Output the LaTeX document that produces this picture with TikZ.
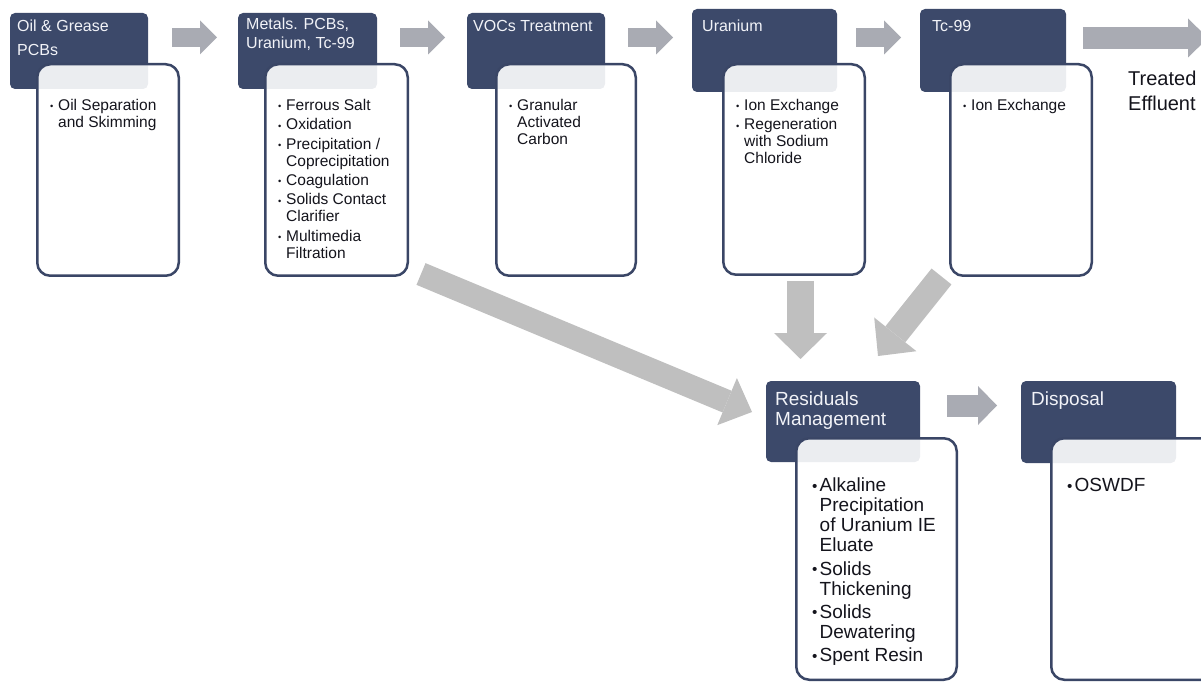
\documentclass[tikz,border=0pt]{standalone}
\usepackage{fontspec}
\setmainfont{Liberation Sans}
\usetikzlibrary{arrows.meta}
\definecolor{navy}{RGB}{60,73,106}
\definecolor{navyb}{RGB}{58,70,102}
\definecolor{agray}{RGB}{169,171,179}
\definecolor{bgray}{RGB}{191,191,191}
\definecolor{hwhite}{RGB}{242,243,248}
\definecolor{btext}{RGB}{20,20,28}
\newcommand{\bul}{\makebox[8pt][l]{\raisebox{0.8pt}{\scalebox{0.6}{•}}}}
\newcommand{\cnt}{\hspace*{8pt}}
\newcommand{\bbul}{\makebox[7.5pt][l]{\raisebox{0.6pt}{\scalebox{0.8}{•}}}}
\newcommand{\bcnt}{\hspace*{7.5pt}}
\newcommand{\fs}{\rule{0pt}{13pt}}
\newcommand{\bfs}{\rule{0pt}{15pt}}
\begin{document}
\begin{tikzpicture}[x=1pt,y=-1pt,
  hdr/.style={fill=navy, rounded corners=5pt, inner sep=0pt, outer sep=0pt, anchor=north west},
  wbox/.style={fill=white, fill opacity=0.9, draw=navyb, line width=2.5pt, rounded corners=13pt, inner sep=0pt, outer sep=0pt, anchor=north west},
  htxt/.style={text=hwhite, font=\fontsize{16}{19}\selectfont, anchor=north west, inner sep=0pt, align=left},
  btxt/.style={text=btext, font=\fontsize{15.5}{17}\selectfont, anchor=north west, inner sep=0pt, align=left},
  bhtxt/.style={text=hwhite, font=\fontsize{19}{20}\selectfont, anchor=north west, inner sep=0pt, align=left},
  bbtxt/.style={text=btext, font=\fontsize{19}{20}\selectfont, anchor=north west, inner sep=0pt, align=left},
  sarr/.style={draw=agray, line width=19pt, -{Triangle[width=34pt,length=17pt,line width=0pt]}},
  marr/.style={draw=agray, line width=22pt, -{Triangle[width=39pt,length=19pt,line width=0pt]}},
  barr/.style={draw=bgray, line width=#1, -{Triangle[width=53pt,length=26pt,line width=0pt]}},
]
\useasboundingbox (0,0) rectangle (1201,684);
\clip (0,0) rectangle (1201,684);

% headers (top row)
\node[hdr, minimum width=138pt, minimum height=76pt] (h1) at (10,13) {};
\node[hdr, minimum width=139pt, minimum height=76pt] (h2) at (238,13) {};
\node[hdr, minimum width=138pt, minimum height=76pt] (h3) at (467,13) {};
\node[hdr, minimum width=145pt, minimum height=83pt] (h4) at (692,9) {};
\node[hdr, minimum width=146pt, minimum height=83pt] (h5) at (920,9) {};
% headers (bottom row)
\node[hdr, minimum width=154pt, minimum height=81pt] (rh) at (766,381) {};
\node[hdr, minimum width=155pt, minimum height=82pt] (dh) at (1021,381) {};

% white boxes
\node[wbox, minimum width=141.5pt, minimum height=211.5pt] (w1) at (37.25,64.25) {};
\node[wbox, minimum width=142.5pt, minimum height=211.5pt] (w2) at (265.25,64.25) {};
\node[wbox, minimum width=139.5pt, minimum height=211.5pt] (w3) at (496.25,64.25) {};
\node[wbox, minimum width=141.5pt, minimum height=210.5pt] (w4) at (723.25,64.25) {};
\node[wbox, minimum width=141.5pt, minimum height=211.5pt] (w5) at (950.25,64.25) {};
\node[wbox, minimum width=160.5pt, minimum height=241.5pt] (w6) at (796.25,438.25) {};
\node[wbox, minimum width=190pt, minimum height=241.5pt] (w7) at (1051.25,438.25) {};

% header texts
\node[htxt] (ht1) at (17,18.7) {\fs Oil \& Grease\\[5pt]PCBs};
\node[htxt] (ht2) at (246,16.3) {\fs Metals. PCBs,\\Uranium, Tc-99};
\node[htxt] (ht3) at (473,18.7) {\fs VOCs Treatment};
\node[htxt] (ht4) at (702,18.7) {\fs Uranium};
\node[htxt] (ht5) at (932,18.7) {\fs Tc-99};
\node[bhtxt] (rt) at (775,390) {\bfs Residuals\\[0.7pt]Management};
\node[bhtxt] (dt) at (1031,390.7) {\bfs Disposal};

% body texts
\node[btxt] (t1) at (50,97.5) {\fs\bul Oil Separation\\\cnt and Skimming};
\node[btxt] (t2) at (278,97.5) {\fs\bul Ferrous Salt\\[2.3pt]\bul Oxidation\\[2.3pt]\bul Precipitation /\\\cnt Coprecipitation\\[2.3pt]\bul Coagulation\\[2.3pt]\bul Solids Contact\\\cnt Clarifier\\[2.3pt]\bul Multimedia\\\cnt Filtration};
\node[btxt] (t3) at (509,97.5) {\fs\bul Granular\\\cnt Activated\\\cnt Carbon};
\node[btxt] (t4) at (736,97.5) {\fs\bul Ion Exchange\\[2.3pt]\bul Regeneration\\\cnt with Sodium\\\cnt Chloride};
\node[btxt] (t5) at (963,97.5) {\fs\bul Ion Exchange};
\node[bbtxt] (rb) at (812,476.7) {\bfs\bbul Alkaline\\\bcnt Precipitation\\\bcnt of Uranium IE\\\bcnt Eluate\\[3.3pt]\bbul Solids\\\bcnt Thickening\\[3.3pt]\bbul Solids\\\bcnt Dewatering\\[3.3pt]\bbul Spent Resin};
\node[bbtxt] (db) at (1067,476.7) {\bfs\bbul OSWDF};
\node[bbtxt, font=\fontsize{20}{20}\selectfont] (te) at (1128,70) {\bfs Treated\\[5pt]Effluent};

% arrows
\draw[sarr] ([shift={(24,24.5)}]h1.north east) -- ([shift={(-21,24.5)}]h2.north west);
\draw[sarr] ([shift={(23,24.5)}]h2.north east) -- ([shift={(-22,24.5)}]h3.north west);
\draw[sarr] ([shift={(23,24.5)}]h3.north east) -- ([shift={(-19,28.5)}]h4.north west);
\draw[sarr] ([shift={(19,28.5)}]h4.north east) -- ([shift={(-19,28.5)}]h5.north west);
\coordinate (out) at ([shift={(142,29)}]h5.north east);
\draw[marr, -{Triangle[width=39pt,length=20pt,line width=0pt]}] ([shift={(17,29)}]h5.north east) -- (out);
\draw[marr] ([shift={(27,24.5)}]rh.north east) -- ([shift={(-24,24.5)}]dh.north west);
\draw[barr=27pt] ([shift={(6.5,6.25)}]w4.south) -- ([shift={(-42.5,-22)}]rh.north);
\draw[barr=25.5pt, -{Triangle[width=54pt,length=27.7pt,line width=0pt]}] ([shift={(-8.75,0.75)}]w5.south west) -- ([shift={(-42,-25)}]rh.north east);
\draw[barr=23.5pt, -{Triangle[width=51pt,length=27pt,line width=0pt]}] ([shift={(13.25,-1.75)}]w2.south east) -- ([shift={(-14,31)}]rh.north west);
\end{tikzpicture}
\end{document}
